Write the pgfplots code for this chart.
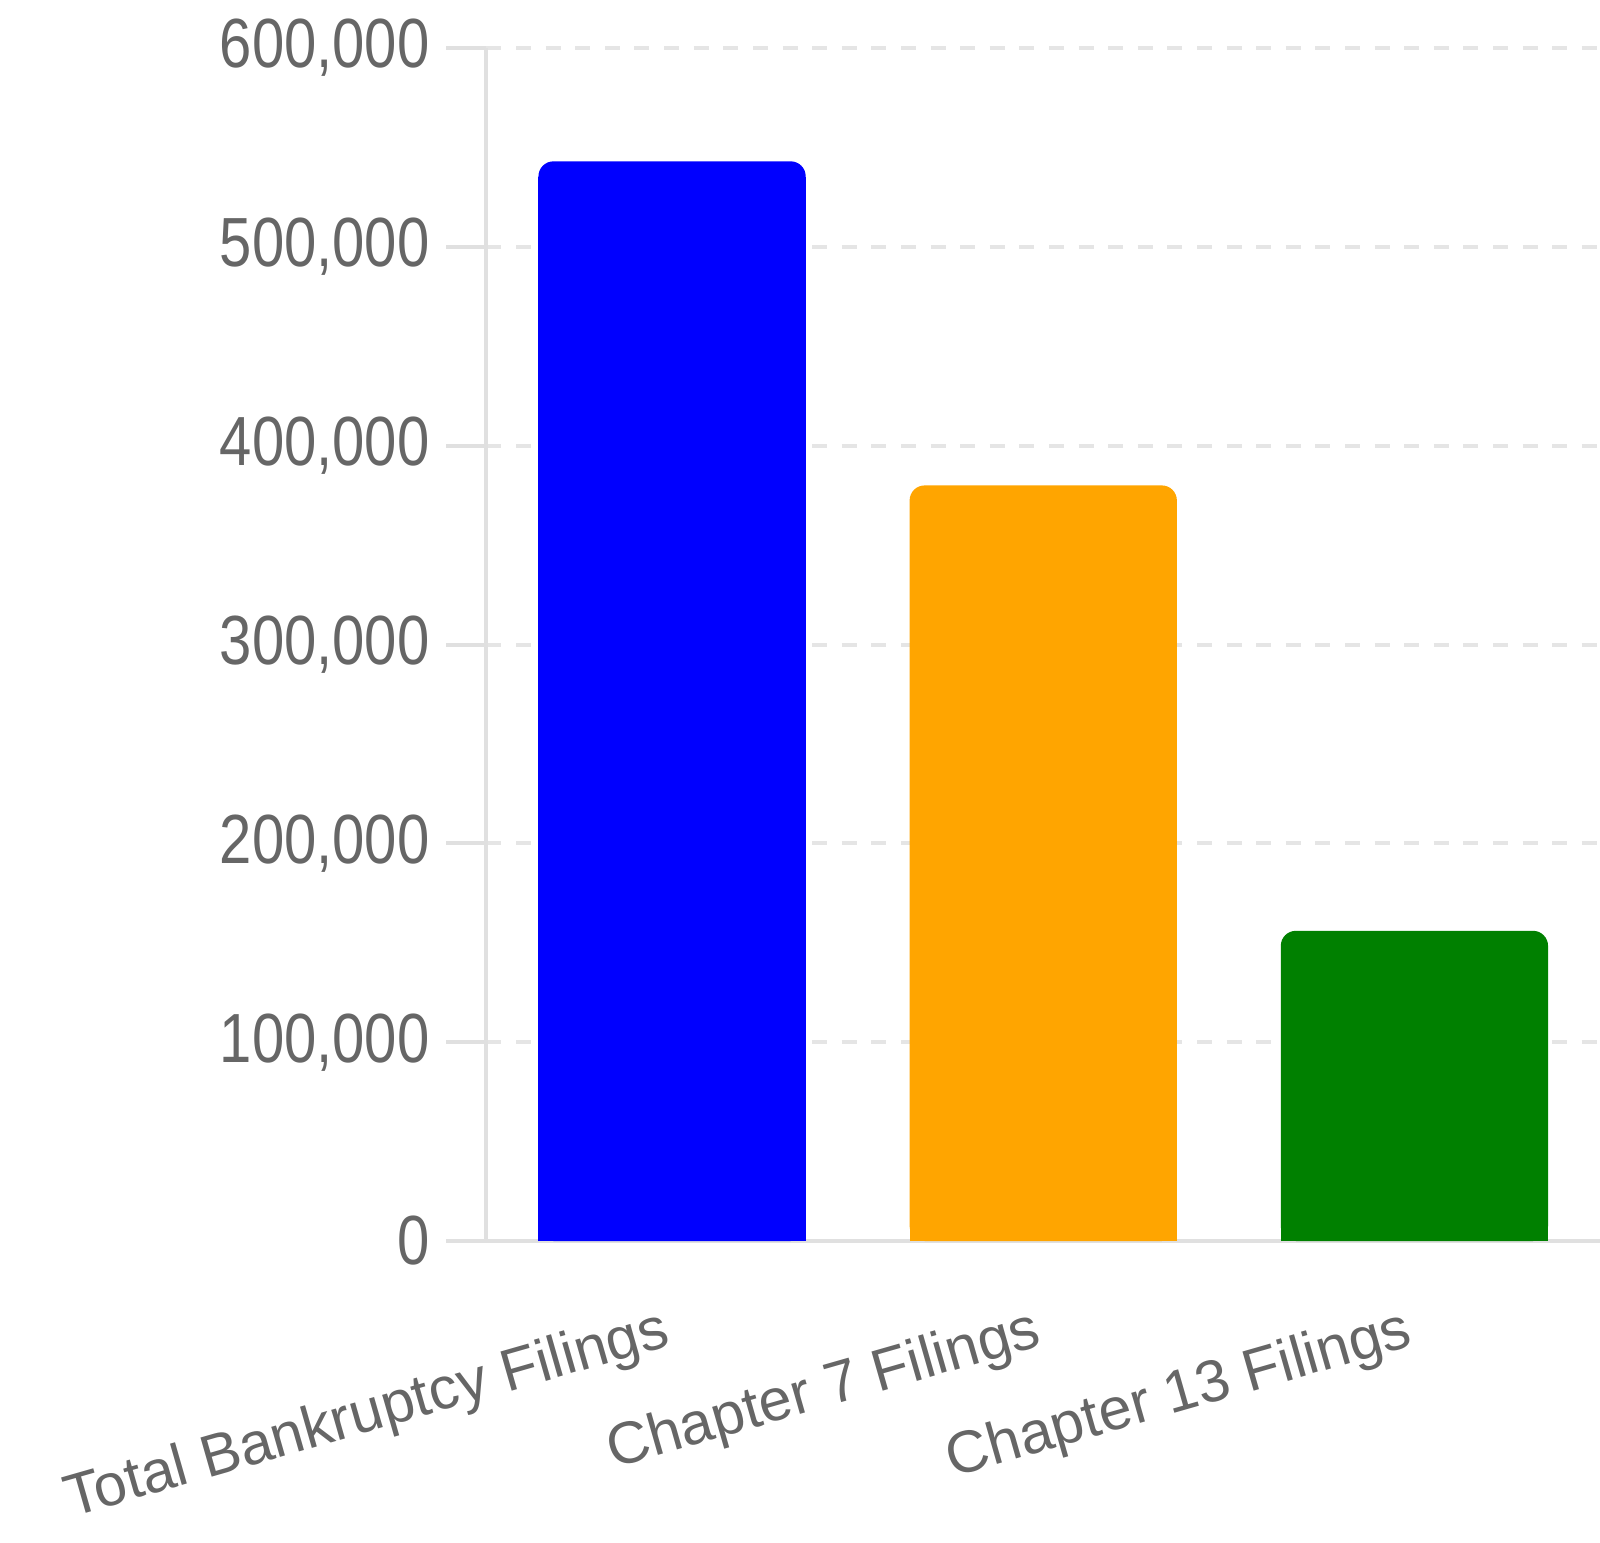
\documentclass[border=0pt]{standalone}
\usepackage{pgfplots}
\pgfplotsset{compat=1.18}
\usepackage{fontspec}
\setmainfont{Liberation Sans}
\definecolor{gridgray}{HTML}{E5E5E5}
\definecolor{axisgray}{HTML}{E0E0E0}
\definecolor{txtgray}{HTML}{666666}
\definecolor{cblue}{HTML}{0000FF}
\definecolor{corange}{HTML}{FFA500}
\definecolor{cgreen}{HTML}{008000}
\newcommand{\yl}[1]{\scalebox{1}[1.2]{#1}}
\pgfplotstableread{
x  y
0  543000
}\totaltab
\pgfplotstableread{
x  y
1  380000
}\chsevtab
\pgfplotstableread{
x  y
2  156000
}\chthirtab
\begin{document}
\begin{tikzpicture}
\useasboundingbox (-243.25pt,-150.5pt) rectangle (556.75pt,620.5pt);
\begin{axis}[
  at={(0pt,0pt)}, anchor=south west,
  scale only axis,
  width=556.75pt, height=596.5pt,
  xmin=-0.5, xmax=2.5,
  ymin=0, ymax=600000,
  axis lines=left,
  axis line style={-, axisgray, line width=2pt},
  ymajorgrids,
  grid style={gridgray, line width=2pt, dash pattern=on 7.5pt off 7.3pt},
  ytick={0,100000,200000,300000,400000,500000,600000},
  yticklabels={\yl{0},\yl{100,000},\yl{200,000},\yl{300,000},\yl{400,000},\yl{500,000},\yl{600,000}},
  scaled y ticks=false,
  yticklabel style={font=\fontsize{29}{34}\selectfont, text=txtgray, xshift=-5pt},
  tick align=outside,
  major tick length=20pt,
  ytick style={axisgray, line width=2pt},
  xtick={0,1,2},
  xticklabels={Total Bankruptcy Filings, Chapter 7 Filings, Chapter 13 Filings},
  xtick style={draw=none},
  xticklabel style={font=\fontsize{29.6}{35}\selectfont, text=txtgray, anchor=east, inner sep=2pt, yshift=-24pt, rotate=16},
  every axis plot/.append style={mark=none},
]
% rounded-top bars
\addplot[ybar, bar width=0.72, fill=cblue, draw=none, rounded corners=7.5pt] table {\totaltab};
\addplot[ybar, bar width=0.72, fill=corange, draw=none, rounded corners=7.5pt] table {\chsevtab};
\addplot[ybar, bar width=0.72, fill=cgreen, draw=none, rounded corners=7.5pt] table {\chthirtab};
% square the bottom corners: same values, drawn as butt-capped combs stopping below the rounded top
\addplot[ycomb, draw=cblue, line width=133.6pt, line cap=butt, shorten >=8pt] table {\totaltab};
\addplot[ycomb, draw=corange, line width=133.6pt, line cap=butt, shorten >=8pt] table {\chsevtab};
\addplot[ycomb, draw=cgreen, line width=133.6pt, line cap=butt, shorten >=8pt] table {\chthirtab};
\end{axis}
\end{tikzpicture}
\end{document}
